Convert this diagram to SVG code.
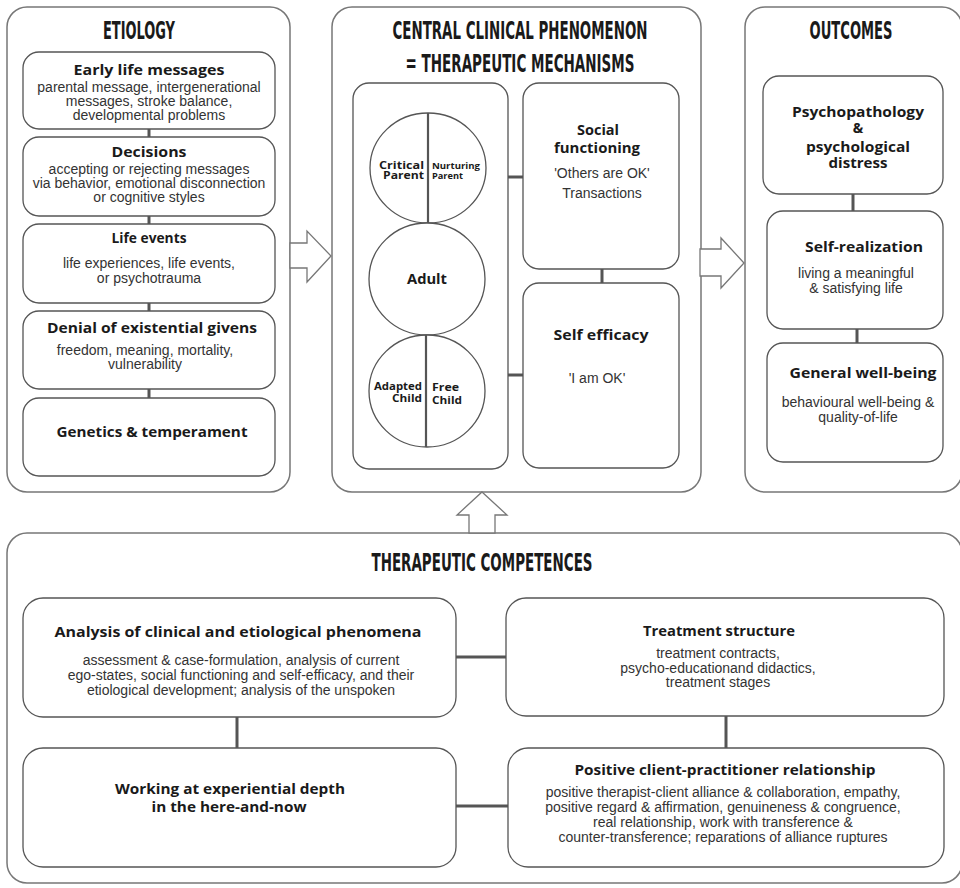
<svg xmlns="http://www.w3.org/2000/svg" width="960" height="888" viewBox="0 0 960 888">
<style>
.panel{fill:#fff;stroke:#777;stroke-width:1.5}
.box{fill:#fff;stroke:#555;stroke-width:1.3}
.conn{stroke:#555;stroke-width:3;fill:none}
.div{stroke:#555;stroke-width:2.2}
.arrow{fill:#fff;stroke:#777;stroke-width:1.3;stroke-linejoin:miter}
.ttl{font-family:'Liberation Sans Narrow','DejaVu Sans Condensed','Liberation Sans',sans-serif;font-weight:bold;font-size:24px;fill:#1a1a1a;text-anchor:middle}
.h{font-family:'Open Sans','Noto Sans',sans-serif;font-weight:bold;font-size:14px;fill:#1a1a1a;text-anchor:middle}
.s{font-family:'Open Sans','Noto Sans',sans-serif;font-weight:bold;fill:#1a1a1a}
.b{font-family:'Liberation Sans',Arial,sans-serif;font-size:14px;fill:#333;text-anchor:middle}
</style>

<!-- Panels -->
<g id="etiology">
<rect class="panel" x="7" y="7" width="283" height="485" rx="20"/>
<text class="ttl" x="139" y="39" textLength="72" lengthAdjust="spacingAndGlyphs">ETIOLOGY</text>
</g>
<g id="central">
<rect class="panel" x="332" y="7" width="369" height="485" rx="20"/>
<text class="ttl" x="520" y="39" textLength="255" lengthAdjust="spacingAndGlyphs">CENTRAL CLINICAL PHENOMENON</text>
<text class="ttl" x="520" y="72" textLength="229" lengthAdjust="spacingAndGlyphs">= THERAPEUTIC MECHANISMS</text>
</g>
<g id="outcomes">
<rect class="panel" x="745" y="7" width="217" height="485" rx="20"/>
<text class="ttl" x="851" y="39" textLength="83" lengthAdjust="spacingAndGlyphs">OUTCOMES</text>
</g>
<g id="competences">
<rect class="panel" x="7" y="533" width="955" height="350" rx="20"/>
<text class="ttl" x="482" y="571" textLength="221" lengthAdjust="spacingAndGlyphs">THERAPEUTIC COMPETENCES</text>
</g>

<!-- Connectors -->
<g id="connectors">
<line class="conn" x1="149" y1="129" x2="149" y2="137"/>
<line class="conn" x1="149" y1="216" x2="149" y2="224"/>
<line class="conn" x1="149" y1="303" x2="149" y2="311"/>
<line class="conn" x1="149" y1="389" x2="149" y2="398"/>
<line class="conn" x1="508" y1="177" x2="523" y2="177"/>
<line class="conn" x1="508" y1="375" x2="523" y2="375"/>
<line class="conn" x1="602" y1="269" x2="602" y2="283"/>
<line class="conn" x1="853" y1="194" x2="853" y2="211"/>
<line class="conn" x1="857" y1="329" x2="857" y2="343"/>
<line class="conn" x1="456" y1="657" x2="506" y2="657"/>
<line class="conn" x1="237" y1="717" x2="237" y2="748"/>
<line class="conn" x1="726" y1="716" x2="726" y2="748"/>
<line class="conn" x1="456" y1="806" x2="508" y2="806"/>
<polygon class="arrow" points="290,243 307,243 307,231 331,256 307,282 307,268 290,268"/>
<polygon class="arrow" points="700,249 721,249 721,238 744,263 721,288 721,276 700,276"/>
<polygon class="arrow" points="482,492 507,515 495,515 495,533 469,533 469,515 457,515"/>
</g>

<!-- Etiology nodes -->
<g id="early-life">
<rect class="box" x="23" y="52" width="252" height="77" rx="16"/>
<text class="h" x="149" y="75" textLength="151" lengthAdjust="spacingAndGlyphs">Early life messages</text>
<text class="b" x="149" y="92">parental message, intergenerational</text>
<text class="b" x="149" y="106">messages, stroke balance,</text>
<text class="b" x="149" y="120">developmental problems</text>
</g>
<g id="decisions">
<rect class="box" x="23" y="137" width="252" height="79" rx="16"/>
<text class="h" x="149" y="157" textLength="75" lengthAdjust="spacingAndGlyphs">Decisions</text>
<text class="b" x="149" y="174">accepting or rejecting messages</text>
<text class="b" x="149" y="188">via behavior, emotional disconnection</text>
<text class="b" x="149" y="202">or cognitive styles</text>
</g>
<g id="life-events">
<rect class="box" x="23" y="224" width="252" height="79" rx="16"/>
<text class="h" x="149" y="243" textLength="75" lengthAdjust="spacingAndGlyphs">Life events</text>
<text class="b" x="149" y="268">life experiences, life events,</text>
<text class="b" x="149" y="283">or psychotrauma</text>
</g>
<g id="denial">
<rect class="box" x="23" y="311" width="252" height="78" rx="16"/>
<text class="h" x="152" y="333" textLength="210" lengthAdjust="spacingAndGlyphs">Denial of existential givens</text>
<text class="b" x="145" y="355">freedom, meaning, mortality,</text>
<text class="b" x="145" y="369">vulnerability</text>
</g>
<g id="genetics">
<rect class="box" x="23" y="398" width="252" height="78" rx="16"/>
<text class="h" x="152" y="437" textLength="191" lengthAdjust="spacingAndGlyphs">Genetics &amp; temperament</text>
</g>

<!-- Central nodes -->
<g id="ego-states">
<rect class="box" x="353" y="83" width="155" height="386" rx="16"/>
<ellipse class="box" cx="428" cy="168" rx="58" ry="55"/>
<line class="div" x1="428" y1="113" x2="428" y2="223"/>
<text class="s" x="424" y="169" font-size="10" text-anchor="end" textLength="45" lengthAdjust="spacingAndGlyphs">Critical</text>
<text class="s" x="424" y="179" font-size="10" text-anchor="end" textLength="41" lengthAdjust="spacingAndGlyphs">Parent</text>
<text class="s" x="432" y="169" font-size="9" textLength="48" lengthAdjust="spacingAndGlyphs">Nurturing</text>
<text class="s" x="432" y="179" font-size="9" textLength="31" lengthAdjust="spacingAndGlyphs">Parent</text>
<ellipse class="box" cx="427" cy="279" rx="58" ry="56"/>
<text class="s" x="427" y="284" font-size="14" text-anchor="middle" textLength="40" lengthAdjust="spacingAndGlyphs">Adult</text>
<ellipse class="box" cx="427" cy="391" rx="58" ry="56"/>
<line class="div" x1="426" y1="335" x2="426" y2="447"/>
<text class="s" x="422" y="390" font-size="10" text-anchor="end" textLength="48" lengthAdjust="spacingAndGlyphs">Adapted</text>
<text class="s" x="422" y="402" font-size="10" text-anchor="end" textLength="30" lengthAdjust="spacingAndGlyphs">Child</text>
<text class="s" x="432" y="391" font-size="10" textLength="27" lengthAdjust="spacingAndGlyphs">Free</text>
<text class="s" x="432" y="404" font-size="10" textLength="30" lengthAdjust="spacingAndGlyphs">Child</text>
</g>
<g id="social-functioning">
<rect class="box" x="523" y="83" width="156" height="186" rx="16"/>
<text class="h" x="598" y="135" textLength="42" lengthAdjust="spacingAndGlyphs">Social</text>
<text class="h" x="597" y="153" textLength="86" lengthAdjust="spacingAndGlyphs">functioning</text>
<text class="b" x="602" y="178">'Others are OK'</text>
<text class="b" x="602" y="198">Transactions</text>
</g>
<g id="self-efficacy">
<rect class="box" x="523" y="283" width="156" height="185" rx="16"/>
<text class="h" x="601" y="340" textLength="95" lengthAdjust="spacingAndGlyphs">Self efficacy</text>
<text class="b" x="597" y="383">'I am OK'</text>
</g>

<!-- Outcome nodes -->
<g id="psychopathology">
<rect class="box" x="763" y="76" width="180" height="118" rx="16"/>
<text class="h" x="858" y="117" textLength="132" lengthAdjust="spacingAndGlyphs">Psychopathology</text>
<text class="h" x="858" y="133">&amp;</text>
<text class="h" x="858" y="152" textLength="104" lengthAdjust="spacingAndGlyphs">psychological</text>
<text class="h" x="858" y="168" textLength="59" lengthAdjust="spacingAndGlyphs">distress</text>
</g>
<g id="self-realization">
<rect class="box" x="767" y="211" width="176" height="118" rx="16"/>
<text class="h" x="864" y="252" textLength="118" lengthAdjust="spacingAndGlyphs">Self-realization</text>
<text class="b" x="856" y="278">living a meaningful</text>
<text class="b" x="856" y="293">&amp; satisfying life</text>
</g>
<g id="well-being">
<rect class="box" x="767" y="343" width="176" height="119" rx="16"/>
<text class="h" x="863" y="378" textLength="147" lengthAdjust="spacingAndGlyphs">General well-being</text>
<text class="b" x="858" y="407">behavioural well-being &amp;</text>
<text class="b" x="858" y="422">quality-of-life</text>
</g>

<!-- Competence nodes -->
<g id="analysis">
<rect class="box" x="23" y="598" width="433" height="119" rx="20"/>
<text class="h" x="238" y="637" textLength="367" lengthAdjust="spacingAndGlyphs">Analysis of clinical and etiological phenomena</text>
<text class="b" x="241" y="665">assessment &amp; case-formulation, analysis of current</text>
<text class="b" x="241" y="680">ego-states, social functioning and self-efficacy, and their</text>
<text class="b" x="241" y="695">etiological development; analysis of the unspoken</text>
</g>
<g id="treatment-structure">
<rect class="box" x="506" y="598" width="438" height="118" rx="20"/>
<text class="h" x="719" y="636" textLength="152" lengthAdjust="spacingAndGlyphs">Treatment structure</text>
<text class="b" x="718" y="658">treatment contracts,</text>
<text class="b" x="718" y="673">psycho-educationand didactics,</text>
<text class="b" x="718" y="687">treatment stages</text>
</g>
<g id="working">
<rect class="box" x="23" y="748" width="433" height="119" rx="20"/>
<text class="h" x="230" y="794" textLength="230" lengthAdjust="spacingAndGlyphs">Working at experiential depth</text>
<text class="h" x="229" y="812" textLength="155" lengthAdjust="spacingAndGlyphs">in the here-and-now</text>
</g>
<g id="relationship">
<rect class="box" x="508" y="748" width="436" height="119" rx="20"/>
<text class="h" x="725" y="775" textLength="301" lengthAdjust="spacingAndGlyphs">Positive client-practitioner relationship</text>
<text class="b" x="723" y="797">positive therapist-client alliance &amp; collaboration, empathy,</text>
<text class="b" x="723" y="812">positive regard &amp; affirmation, genuineness &amp; congruence,</text>
<text class="b" x="723" y="827">real relationship, work with transference &amp;</text>
<text class="b" x="723" y="842">counter-transference; reparations of alliance ruptures</text>
</g>
</svg>
